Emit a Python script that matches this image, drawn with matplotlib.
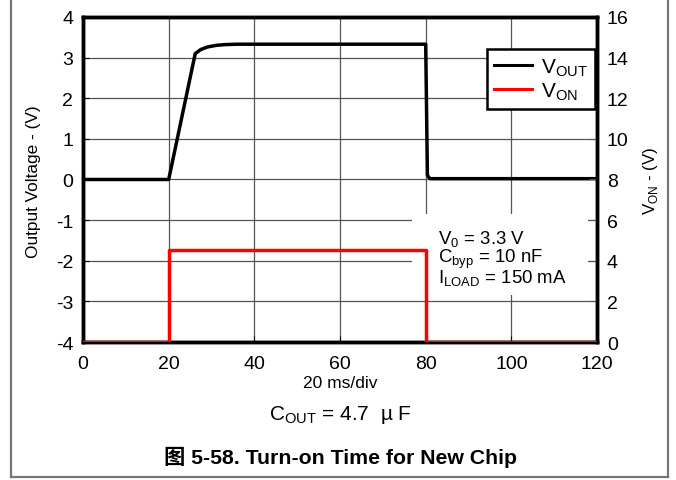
import matplotlib.pyplot as plt
from matplotlib.lines import Line2D
from matplotlib.patches import Rectangle

# data
t_out = [0, 20, 26.2, 27.5, 29, 31, 33, 36, 80, 80.4, 81, 120]
v_out = [0, 0, 3.1, 3.2, 3.26, 3.3, 3.32, 3.33, 3.33, 0.1, 0.02, 0.02]
t_on = [0, 20, 20, 80, 80, 120]
v_on = [0, 0, 4.55, 4.55, 0, 0]

x_ticks = [0, 20, 40, 60, 80, 100, 120]
left_ticks = [-4, -3, -2, -1, 0, 1, 2, 3, 4]
right_ticks = [0, 2, 4, 6, 8, 10, 12, 14, 16]

cond_lines = ['V$_{\\mathregular{0}}$ = 3.3 V',
              'C$_{\\mathregular{byp}}$ = 10 nF',
              'I$_{\\mathregular{LOAD}}$ = 150 mA']

plt.rcParams['font.family'] = ['Liberation Sans', 'Noto Sans CJK SC', 'DejaVu Sans']
plt.rcParams['axes.unicode_minus'] = False

fig = plt.figure(figsize=(6.76, 4.81), dpi=100)
ax = fig.add_axes([0.1228, 0.2869, 0.7604, 0.6757])
ax2 = ax.twinx()

ax.plot(t_out, v_out, color='black', lw=2.5, zorder=3)
ax2.plot(t_on, v_on, color='red', lw=2.5, zorder=3)

ax.set_xlim(0, 120)
ax.set_ylim(-4, 4)
ax2.set_ylim(0, 16)
ax.set_xticks(x_ticks)
ax.set_yticks(left_ticks)
ax2.set_yticks(right_ticks)
ax.grid(True, color='#555555', lw=0.9)
ax.tick_params(direction='in', labelsize=14, length=4, pad=7)
ax.tick_params(axis='x', pad=9)
ax2.tick_params(direction='in', labelsize=14, length=6, pad=7, color='#555555')

for a in (ax, ax2):
    for s in a.spines.values():
        s.set_linewidth(2.5)

ax.set_ylabel('Output Voltage - (V)', fontsize=12.4)
ax.yaxis.set_label_coords(-0.082, 0.495)
ax2.set_ylabel('V$_{\\mathregular{ON}}$ - (V)', fontsize=12.2, labelpad=9)
ax.set_xlabel('20 ms/div', fontsize=12.5, labelpad=2.5)

handles = [Line2D([], [], color='black', lw=2.2),
           Line2D([], [], color='red', lw=2.2)]
leg = ax2.legend(handles, ['V$_{\\mathregular{OUT}}$', 'V$_{\\mathregular{ON}}$'],
                 loc='upper right', bbox_to_anchor=(0.9962, 0.9015), borderaxespad=0,
                 fontsize=15, fancybox=False, framealpha=1, edgecolor='black',
                 handlelength=1.8, borderpad=0.35, labelspacing=0.1,
                 handletextpad=0.45)
leg.get_frame().set_linewidth(1.8)

# white patch behind the test conditions
ax2.add_patch(Rectangle((0.640, 0.145), 0.3425, 0.249, transform=ax2.transAxes,
                        facecolor='white', edgecolor='none', zorder=1))
ax2.text(0.6907, 0.350, '\n'.join(cond_lines), transform=ax2.transAxes,
         fontsize=13.4, va='top', ha='left', linespacing=0.86, zorder=4)

fig.text(0.503, 0.137, 'C$_{\\mathregular{OUT}}$ = 4.7  \u00b5 F', fontsize=15, ha='center', va='center')
fig.text(0.503, 0.05, '图 5-58. Turn-on Time for New Chip', fontsize=15.3,
         fontweight='bold', ha='center', va='center')

# outer frame
fig.add_artist(Line2D([0.016, 0.016], [0.006, 1.0], color='#777777', lw=1.6))
fig.add_artist(Line2D([0.988, 0.988], [0.006, 1.0], color='#777777', lw=1.6))
fig.add_artist(Line2D([0.016, 0.988], [0.006, 0.006], color='#777777', lw=1.6))
fig.add_artist(Line2D([0.0, 1.0], [0.999, 0.999], color='#777777', lw=1.2))

fig.savefig('out.png', dpi=100)
